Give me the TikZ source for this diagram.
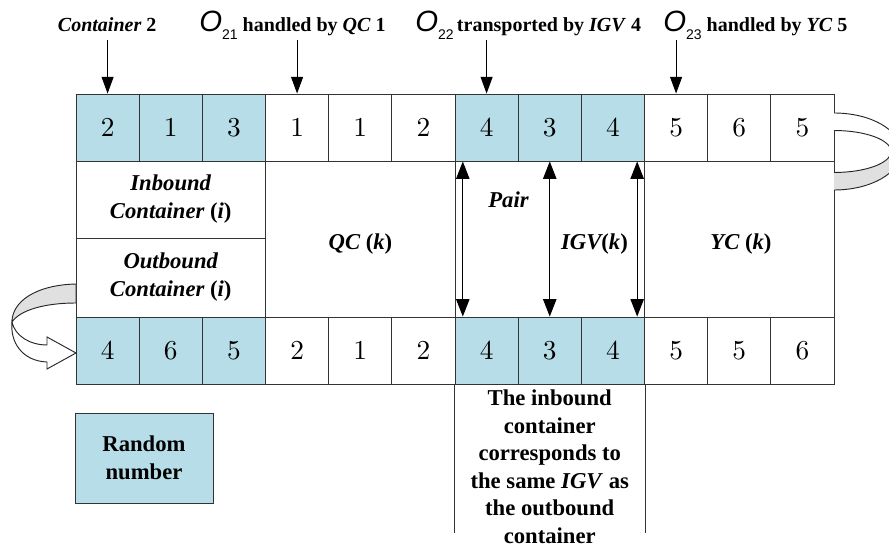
\documentclass[tikz,border=0pt]{standalone}
\usepackage{graphicx}
\usepackage{fontspec}
\setmainfont{Liberation Serif}
\newfontfamily\sansfam{Liberation Sans}
\usetikzlibrary{arrows.meta,positioning}
\definecolor{cellblue}{RGB}{183,222,232}
\definecolor{bandgrey}{RGB}{224,224,224}
% operation symbol O with its index
\newcommand{\onum}[1]{{\sansfam\mdseries\itshape\fontsize{22}{22}\selectfont O}\raisebox{-6pt}{\sansfam\mdseries\upshape\fontsize{10.5}{10.5}\selectfont #1}}
\tikzset{
  cell/.style={draw=black!80, line width=0.7pt, minimum width=47.375pt, minimum height=50.25pt, inner sep=0pt, font=\fontsize{10}{12}\selectfont},
  midbox/.style={draw=black!80, line width=0.7pt, minimum width=142.125pt, inner sep=0pt, align=center, font=\fontsize{17}{21}\selectfont\bfseries\itshape},
  boxtext/.style={inner sep=0pt, align=center, font=\fontsize{17}{21}\selectfont\bfseries\itshape},
  toplabel/.style={inner sep=0pt, anchor=base west, text depth=6pt, font=\fontsize{15}{18}\selectfont\bfseries},
  downarrow/.style={-{Triangle[length=12.5pt,width=9pt]}, line width=0.7pt},
  pairarrow/.style={{Triangle[length=13pt,width=10pt]}-{Triangle[length=13pt,width=10pt]}, line width=0.7pt},
}
\begin{document}
\begin{tikzpicture}[x=0.75pt,y=-0.75pt]
        \clip (0,0) rectangle (889,548);
        % Inbound row and outbound row of the chromosome
        \foreach \v/\col [count=\i] in {2/cellblue,1/cellblue,3/cellblue,1/white,1/white,2/white,4/cellblue,3/cellblue,4/cellblue,5/white,6/white,5/white}
          \node[cell, fill=\col] (ib\i) at ({76+(\i-0.5)*63.1667},127.5) {\scalebox{2.05}{$\v$}};
        \foreach \v/\col [count=\i] in {4/cellblue,6/cellblue,5/cellblue,2/white,1/white,2/white,4/cellblue,3/cellblue,4/cellblue,5/white,5/white,6/white}
          \node[cell, fill=\col] (ob\i) at ({76+(\i-0.5)*63.1667},350.5) {\scalebox{2.05}{$\v$}};
        % Segments between the two rows
        \node[midbox, minimum height=57.75pt] (inbox) at (170.75,199.5) {Inbound\\Container {\upshape(}i{\upshape)}};
        \node[midbox, minimum height=59.25pt] (outbox) at (170.75,277.5) {Outbound\\Container {\upshape(}i{\upshape)}};
        \node[midbox, minimum height=117pt] (qcbox) at (360.25,239) {};
        \node[midbox, minimum height=117pt] (igvbox) at (549.75,239) {};
        \node[midbox, minimum height=117pt] (ycbox) at (739.25,239) {};
        \node[boxtext] (qclab) at (360.5,244) {QC {\upshape(}k{\upshape)}};
        \node[boxtext] (igvlab) at (594.5,244) {IGV{\upshape(}k{\upshape)}};
        \node[boxtext] (yclab) at (741,244) {YC {\upshape(}k{\upshape)}};
        \node[boxtext] (pairlab) at (508.5,200) {Pair};
        % IGV pairs
        \draw[pairarrow] ([xshift=6.2pt]ib7.south west) -- ([xshift=6.2pt]ob7.north west);
        \draw[pairarrow] (ib8.south) -- (ob8.north);
        \draw[pairarrow] ([xshift=-5.85pt]ib9.south east) -- ([xshift=-5.85pt]ob9.north east);
        % Labels above the inbound row
        \node[toplabel] (lab1) at (57.7,32) {\textit{Container} 2};
        \node[toplabel] (lab2) at (199,32) {\onum{21} handled by \textit{QC} 1};
        \node[toplabel] (lab3) at (415,32) {\onum{22}\,transported by \textit{IGV} 4};
        \node[toplabel] (lab4) at (663,32) {\onum{23} handled by \textit{YC} 5};
        \draw[downarrow] (lab1.south -| ib1.north) -- (ib1.north);
        \draw[downarrow] (lab2.south -| ib4.north) -- (ib4.north);
        \draw[downarrow] (lab3.south -| ib7.north) -- (ib7.north);
        \draw[downarrow] (lab4.south -| ib10.north) -- (ib10.north);
        % Note under the IGV segment
        \draw[black!80, line width=0.7pt] (ob7.south west) -- ++(0,149);
        \draw[black!80, line width=0.7pt] (ob9.south east) -- ++(0,149);
        \node[boxtext, font=\fontsize{17}{20.6}\selectfont\bfseries, anchor=north] (note) at (549.75,390) {The inbound\\container\\corresponds to\\the same \textit{IGV} as\\the outbound\\container};
        % Legend
        \node[draw=black!80, line width=0.7pt, fill=cellblue, minimum width=103.5pt, minimum height=67.5pt, align=center, font=\fontsize{17}{21}\selectfont\bfseries] (rand) at (144,458) {Random\\number};
        % Curved band on the right
        \begin{scope}
          \clip (834,0) rectangle (889,151.5);
          \filldraw[draw=black!85, fill=white, line width=0.7pt, even odd rule] (834,151.5) ellipse [x radius=67, y radius=38.5] (834,151.5) ellipse [x radius=57, y radius=21];
        \end{scope}
        \begin{scope}
          \clip (834,151.5) rectangle (889,548);
          \filldraw[draw=black!85, fill=bandgrey, line width=0.7pt, even odd rule] (834,151.5) ellipse [x radius=67, y radius=38.5] (834,151.5) ellipse [x radius=57, y radius=21];
        \end{scope}
        % Curved arrow on the left
        \filldraw[draw=black!85, fill=bandgrey, line width=0.7pt] (76,284) .. controls (35,285) and (12,302) .. (12,322) .. controls (20,310) and (45,303) .. (76,303) -- cycle;
        \filldraw[draw=black!85, fill=white, line width=0.7pt] (12,322) .. controls (15,336) and (30,345) .. (47,345) -- (47,337) -- (76,353) -- (47,369) -- (47,362) .. controls (22,361) and (10,342) .. (12,322) -- cycle;
\end{tikzpicture}
\end{document}
